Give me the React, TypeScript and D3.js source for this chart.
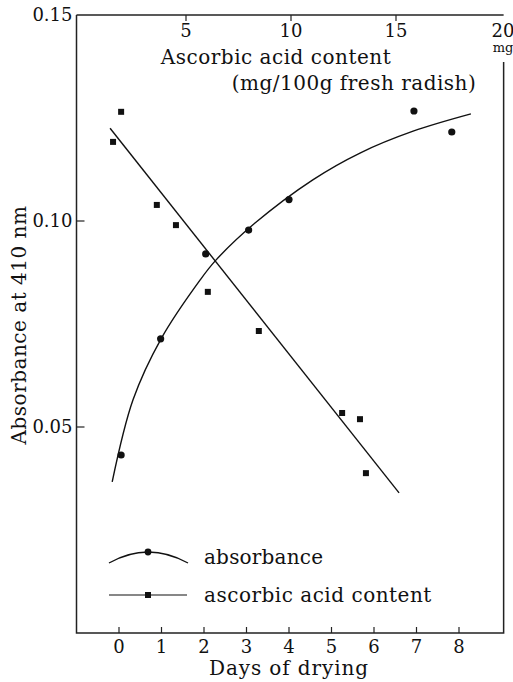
import React from 'react'
import * as d3 from 'd3'

// absorbance at 410 nm vs days of drying (circles)
const absDays = [0.05, 0.98, 2.04, 3.05, 4.0, 6.94, 7.83]
const absVals = [0.0432, 0.0714, 0.0920, 0.0978, 0.1052, 0.1267, 0.1216]

// ascorbic acid content (squares), plotted in the same frame
const ascDays = [-0.14, 0.05, 0.89, 1.34, 2.09, 3.29, 5.25, 5.67, 5.81]
const ascVals = [0.1192, 0.1265, 0.1039, 0.0990, 0.0828, 0.0733, 0.0534, 0.0519, 0.0388]

// hand-drawn fitted curves
const absFitDays = [-0.16, 0.33, 0.99, 1.91, 2.28, 3.2, 4.56, 5.67, 6.92, 8.28]
const absFitVals = [0.0367, 0.0566, 0.0714, 0.0857, 0.0905, 0.0995, 0.1100, 0.1165, 0.1218, 0.1260]
const ascFitDays = [-0.21, 6.59]
const ascFitVals = [0.1225, 0.0340]

const dayTicks = [0, 1, 2, 3, 4, 5, 6, 7, 8]
const absTicks = [0.05, 0.10, 0.15]
const mgTicks = [5, 10, 15, 20]

const FONT = '"DejaVu Serif", serif'
const LS = 0.5

export default function App() {
  const w = 513
  const h = 682
  const x = d3.scaleLinear().domain([0, 8]).range([119, 459])
  const y = d3.scaleLinear().domain([0, 0.15]).range([633, 15])
  const xMg = d3.scaleLinear().domain([0, 20]).range([81, 501])

  const left = x(-1)
  const right = x(9.05)
  const top = y(0.15)
  const bottom = y(0)

  const line = d3.line<[number, number]>().x(d => x(d[0])).y(d => y(d[1]))
  const curve = d3.line<[number, number]>().x(d => x(d[0])).y(d => y(d[1])).curve(d3.curveCatmullRom)

  const absFit: [number, number][] = absFitDays.map((d, i) => [d, absFitVals[i]])
  const ascFit: [number, number][] = ascFitDays.map((d, i) => [d, ascFitVals[i]])

  return (
    <svg width={w} height={h} style={{ position: 'absolute', left: 0, top: 0, background: '#fff' }}
      fontFamily={FONT} fill="#111">
      {/* frame */}
      <path d={`M${left},${top}H${right}`} stroke="#222" strokeWidth={1.3} fill="none" />
      <path d={`M${left},${top}V${bottom}H${right}V${62}`} stroke="#222" strokeWidth={1.5} fill="none" />

      {/* left axis */}
      {absTicks.map(t => (
        <g key={t}>
          {t < 0.15 && <line x1={left} x2={left + 8} y1={y(t)} y2={y(t)} stroke="#222" strokeWidth={1.2} />}
          <text x={left - 4} y={y(t)} dy="0.36em" textAnchor="end" fontSize={18}>{t.toFixed(2)}</text>
        </g>
      ))}
      <text transform={`translate(19,${y(0.075) + 1}) rotate(-90)`} textAnchor="middle" dy="0.36em"
        fontSize={20} letterSpacing={LS}>
        Absorbance at 410 nm
      </text>

      {/* bottom axis */}
      {dayTicks.map(t => (
        <g key={t}>
          <line x1={x(t)} x2={x(t)} y1={bottom} y2={bottom - 6} stroke="#222" strokeWidth={1.2} />
          <text x={x(t)} y={647} dy="0.36em" textAnchor="middle" fontSize={18}>{t}</text>
        </g>
      ))}
      <text x={289} y={668} dy="0.36em" textAnchor="middle" fontSize={20} letterSpacing={0.9}>Days of drying</text>

      {/* top axis: ascorbic acid content */}
      {mgTicks.map(t => (
        <g key={t}>
          {t < 20 && <line x1={xMg(t)} x2={xMg(t)} y1={top} y2={top + 6} stroke="#222" strokeWidth={1.2} />}
          <text x={t === 20 ? xMg(t) + 2 : xMg(t)} y={31} dy="0.36em" textAnchor="middle" fontSize={18}>{t}</text>
        </g>
      ))}
      <text x={xMg(20) + 2} y={52} textAnchor="middle" fontSize={13}>mg</text>
      <text x={276} y={64} textAnchor="middle" fontSize={20} letterSpacing={LS}>Ascorbic acid content</text>
      <text x={354} y={90} textAnchor="middle" fontSize={20} letterSpacing={LS}>(mg/100g fresh radish)</text>

      {/* fitted lines */}
      <path d={curve(absFit) || ''} stroke="#111" strokeWidth={1.4} fill="none" />
      <path d={line(ascFit) || ''} stroke="#111" strokeWidth={1.4} fill="none" />

      {/* points */}
      {absDays.map((d, i) => (
        <circle key={'c' + i} cx={x(d)} cy={y(absVals[i])} r={3.6} fill="#111" />
      ))}
      {ascDays.map((d, i) => (
        <rect key={'s' + i} x={x(d) - 3} y={y(ascVals[i]) - 3} width={6} height={6} fill="#111" />
      ))}

      {/* legend */}
      <path d="M109,563Q148,541 188,563" stroke="#111" strokeWidth={1.4} fill="none" />
      <circle cx={148} cy={552} r={3.4} fill="#111" />
      <text x={204} y={564} fontSize={20} letterSpacing={0.2}>absorbance</text>
      <line x1={109} x2={187} y1={595} y2={595} stroke="#111" strokeWidth={1.2} />
      <rect x={145} y={592} width={6} height={6} fill="#111" />
      <text x={204} y={602} fontSize={20} letterSpacing={LS}>ascorbic acid content</text>
    </svg>
  )
}
